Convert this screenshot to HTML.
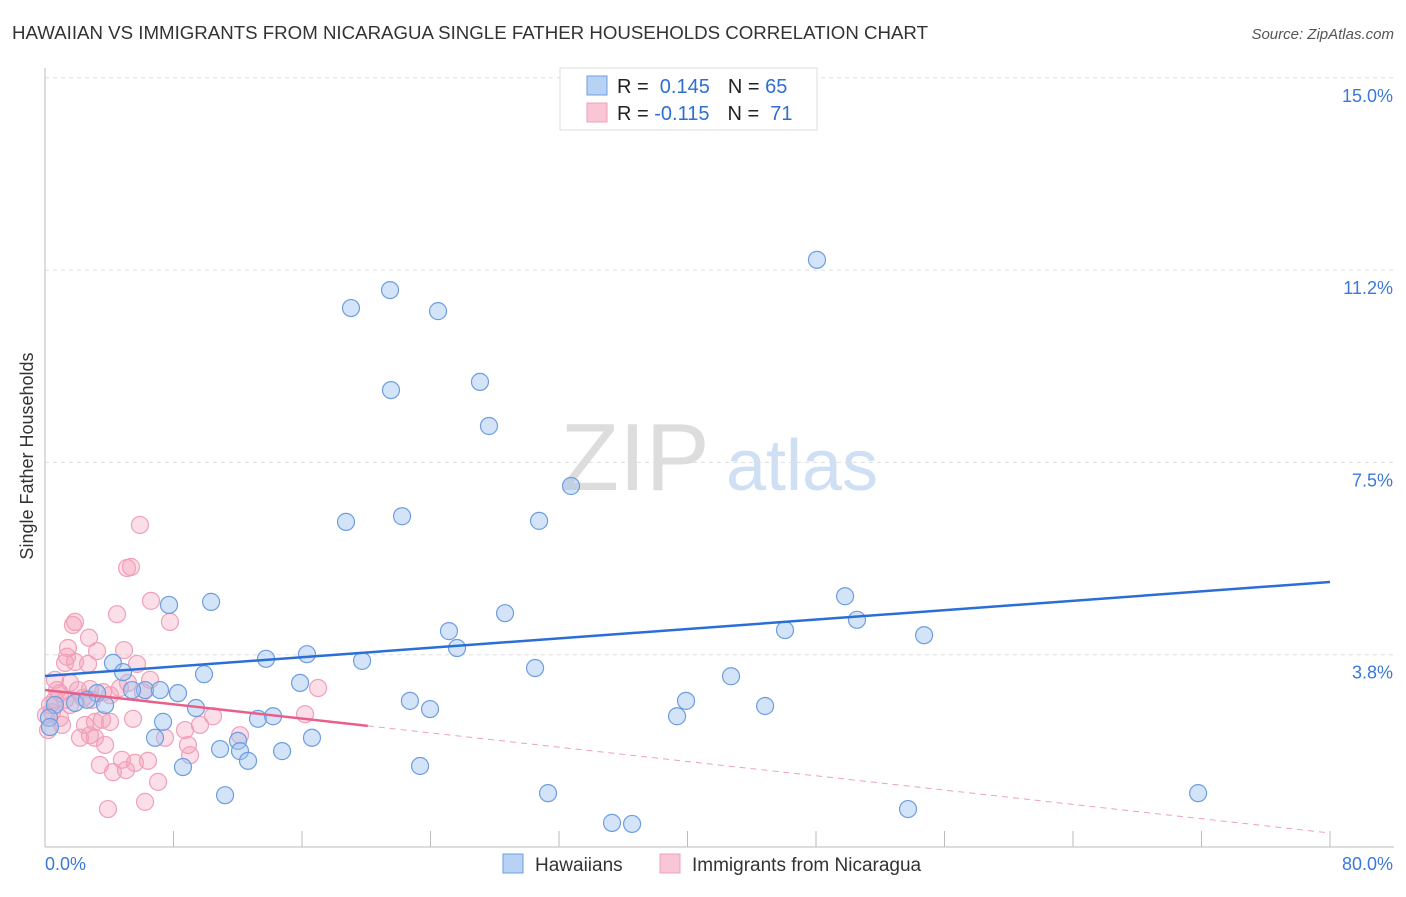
<!DOCTYPE html>
<html><head><meta charset="utf-8"><style>
body{margin:0;background:#fff;font-family:"Liberation Sans",sans-serif;}
svg text{font-family:"Liberation Sans",sans-serif;}
</style></head><body>
<svg id="chart" width="1406" height="892" xmlns="http://www.w3.org/2000/svg">
<text x="12" y="39" font-size="18" fill="#333" textLength="916" lengthAdjust="spacingAndGlyphs">HAWAIIAN VS IMMIGRANTS FROM NICARAGUA SINGLE FATHER HOUSEHOLDS CORRELATION CHART</text>
<text x="1394" y="39" font-size="15" fill="#555" text-anchor="end" font-style="italic">Source: ZipAtlas.com</text>
<text transform="translate(33,456) rotate(-90)" font-size="18" fill="#333" text-anchor="middle">Single Father Households</text>
<g>
<text x="635" y="490" font-size="96" fill="#ddd" font-family="Liberation Serif,serif" text-anchor="middle">ZIP</text>
<text x="802" y="490" font-size="72" fill="#cfe0f5" text-anchor="middle">atlas</text>
</g>
<g id="grid"></g><g id="axes"></g><g id="pts"></g><g id="lines"></g>
<g>
<rect x="560" y="68" width="257" height="62" fill="#fff" stroke="#ddd"/>
<rect x="587" y="76" width="20" height="19" fill="#b8d2f5" stroke="#6d9de0"/>
<rect x="587" y="103" width="20" height="19" fill="#f8c6d5" stroke="#f0a0b8"/>
<text x="617" y="93" font-size="20" fill="#222">R = <tspan fill="#2f6fd0">&#160;0.145</tspan><tspan dx="18">N = </tspan><tspan fill="#2f6fd0">65</tspan></text>
<text x="617" y="120" font-size="20" fill="#222">R = <tspan fill="#2f6fd0">-0.115</tspan><tspan dx="18">N = </tspan><tspan fill="#2f6fd0">&#160;71</tspan></text>
</g>
<g>
<rect x="503" y="854" width="20" height="19" fill="#b8d2f5" stroke="#6d9de0"/>
<text x="535" y="871" font-size="19" fill="#333">Hawaiians</text>
<rect x="660" y="854" width="20" height="19" fill="#f8c6d5" stroke="#f0a0b8"/>
<text x="692" y="871" font-size="19" fill="#333">Immigrants from Nicaragua</text>
</g>
</svg>
<script>
const yTicks=[3.75,7.5,11.25,15];
const yTickLabels=["3.8%","7.5%","11.2%","15.0%"];
const xTickVals=[0,8,16,24,32,40,48,56,64,72,80];
const blueX=[48.06,21.48,19.05,24.47,21.54,27.08,27.64,32.75,18.74,22.23,30.76,49.81,50.55,54.73,46.07,28.64,25.15,25.65,7.72,10.34,4.23,4.86,16.31,13.76,19.74,30.51,42.71,9.90,8.28,6.23,7.16,3.24,1.87,2.61,3.74,0.62,0.25,15.88,22.72,23.97,39.91,39.35,44.83,9.40,7.35,6.85,13.26,14.20,12.02,10.90,12.14,12.64,14.76,16.62,8.59,23.35,11.21,31.32,35.30,36.55,53.73,71.79,0.31,5.42];
const blueY=[11.45,10.86,10.51,10.45,8.91,9.07,8.21,7.04,6.34,6.45,6.36,4.89,4.43,4.13,4.23,4.56,4.21,3.88,4.72,4.78,3.59,3.41,3.76,3.67,3.63,3.49,3.33,3.37,3.00,3.06,3.06,3.00,2.81,2.87,2.77,2.77,2.52,3.20,2.85,2.69,2.85,2.55,2.75,2.71,2.44,2.13,2.50,2.55,2.07,1.91,1.87,1.68,1.87,2.13,1.56,1.58,1.01,1.05,0.47,0.45,0.74,1.05,2.34,3.06];
const pinkX=[5.91,5.11,5.35,6.60,4.48,7.78,1.87,1.74,2.74,1.43,4.92,3.24,1.37,1.25,1.87,2.68,5.73,6.54,0.62,1.56,0.93,2.05,2.80,3.61,2.37,4.67,5.17,6.10,17.00,0.62,1.25,0.31,0.44,0.93,3.11,2.49,3.55,4.05,5.48,2.80,3.11,2.18,3.74,7.47,8.72,8.90,10.46,16.19,12.14,1.06,4.79,5.60,3.42,6.41,5.04,4.23,9.03,7.04,3.92,6.23,0.06,9.65,2.93,4.05,1.56,0.75,0.19];
const pinkY=[6.28,5.44,5.46,4.80,4.54,4.39,4.39,4.33,4.08,3.88,3.84,3.82,3.71,3.59,3.61,3.57,3.57,3.26,3.26,3.20,3.00,3.06,3.08,3.02,2.91,3.10,3.20,3.02,3.10,2.87,2.87,2.77,2.63,2.52,2.44,2.38,2.48,2.44,2.50,2.18,2.13,2.13,1.99,2.13,2.28,1.99,2.55,2.59,2.18,2.38,1.70,1.64,1.60,1.68,1.50,1.46,1.79,1.27,0.74,0.88,2.57,2.38,2.87,2.96,2.77,3.06,2.28];
const blueLine=[3.335,5.168];
const pinkLine=[3.062,0.273];
const pinkSolidEnd=20.1;
const NS="http://www.w3.org/2000/svg";
const X=v=>45+v/80*1285, Y=v=>847-v/3.75*192.3;
function mk(tag,attrs,parent){const e=document.createElementNS(NS,tag);for(const k in attrs)e.setAttribute(k,attrs[k]);parent.appendChild(e);return e;}
const grid=document.getElementById('grid'),axes=document.getElementById('axes'),pts=document.getElementById('pts'),lines=document.getElementById('lines');
yTicks.forEach((t,i)=>{
 const l=mk('line',{x1:45,x2:1394,y1:Y(t),y2:Y(t),stroke:'#ddd','stroke-dasharray':'4,4'},grid);
 
 
 const tx=mk('text',{x:1393,y:Y(t)+24,'font-size':18,fill:'#3b78d8','text-anchor':'end'},axes);
 tx.textContent=yTickLabels[i];
 
 
});
const ax=mk('line',{x1:45,x2:1394,y1:847,y2:847,stroke:'#bbb'},axes);


const ay=mk('line',{x1:45,x2:45,y1:68,y2:847,stroke:'#bbb'},axes);


xTickVals.forEach(v=>{if(v===0)return;
 const t=mk('line',{x1:X(v),x2:X(v),y1:831,y2:847,stroke:'#bbb'},axes);
 
 
});
const xl0=mk('text',{x:45,y:870,'font-size':18,fill:'#3b78d8'},axes);xl0.textContent='0.0%';


const xl1=mk('text',{x:1393,y:870,'font-size':18,fill:'#3b78d8','text-anchor':'end'},axes);xl1.textContent='80.0%';


pinkX.forEach((v,i)=>{const c=mk('circle',{cx:X(v),cy:Y(pinkY[i]),r:8.5,fill:'rgba(244,160,185,0.35)',stroke:'#f0a0b8','stroke-width':1.2},pts);
 
 });
blueX.forEach((v,i)=>{const c=mk('circle',{cx:X(v),cy:Y(blueY[i]),r:8.5,fill:'rgba(160,195,240,0.45)',stroke:'#6d9de0','stroke-width':1.2},pts);
 
 });
const bl=mk('line',{x1:X(0),y1:Y(blueLine[0]),x2:X(80),y2:Y(blueLine[1]),stroke:'#2a6fd6','stroke-width':2.5},lines);


const pAt=v=>pinkLine[0]+(pinkLine[1]-pinkLine[0])*v/80;
const ps=mk('line',{x1:X(0),y1:Y(pinkLine[0]),x2:X(pinkSolidEnd),y2:Y(pAt(pinkSolidEnd)),stroke:'#e8608a','stroke-width':2.5},lines);


const pd=mk('line',{x1:X(pinkSolidEnd),y1:Y(pAt(pinkSolidEnd)),x2:X(80),y2:Y(pinkLine[1]),stroke:'#f0a0b8','stroke-width':1,'stroke-dasharray':'6,5'},lines);


</script>
</body></html>
